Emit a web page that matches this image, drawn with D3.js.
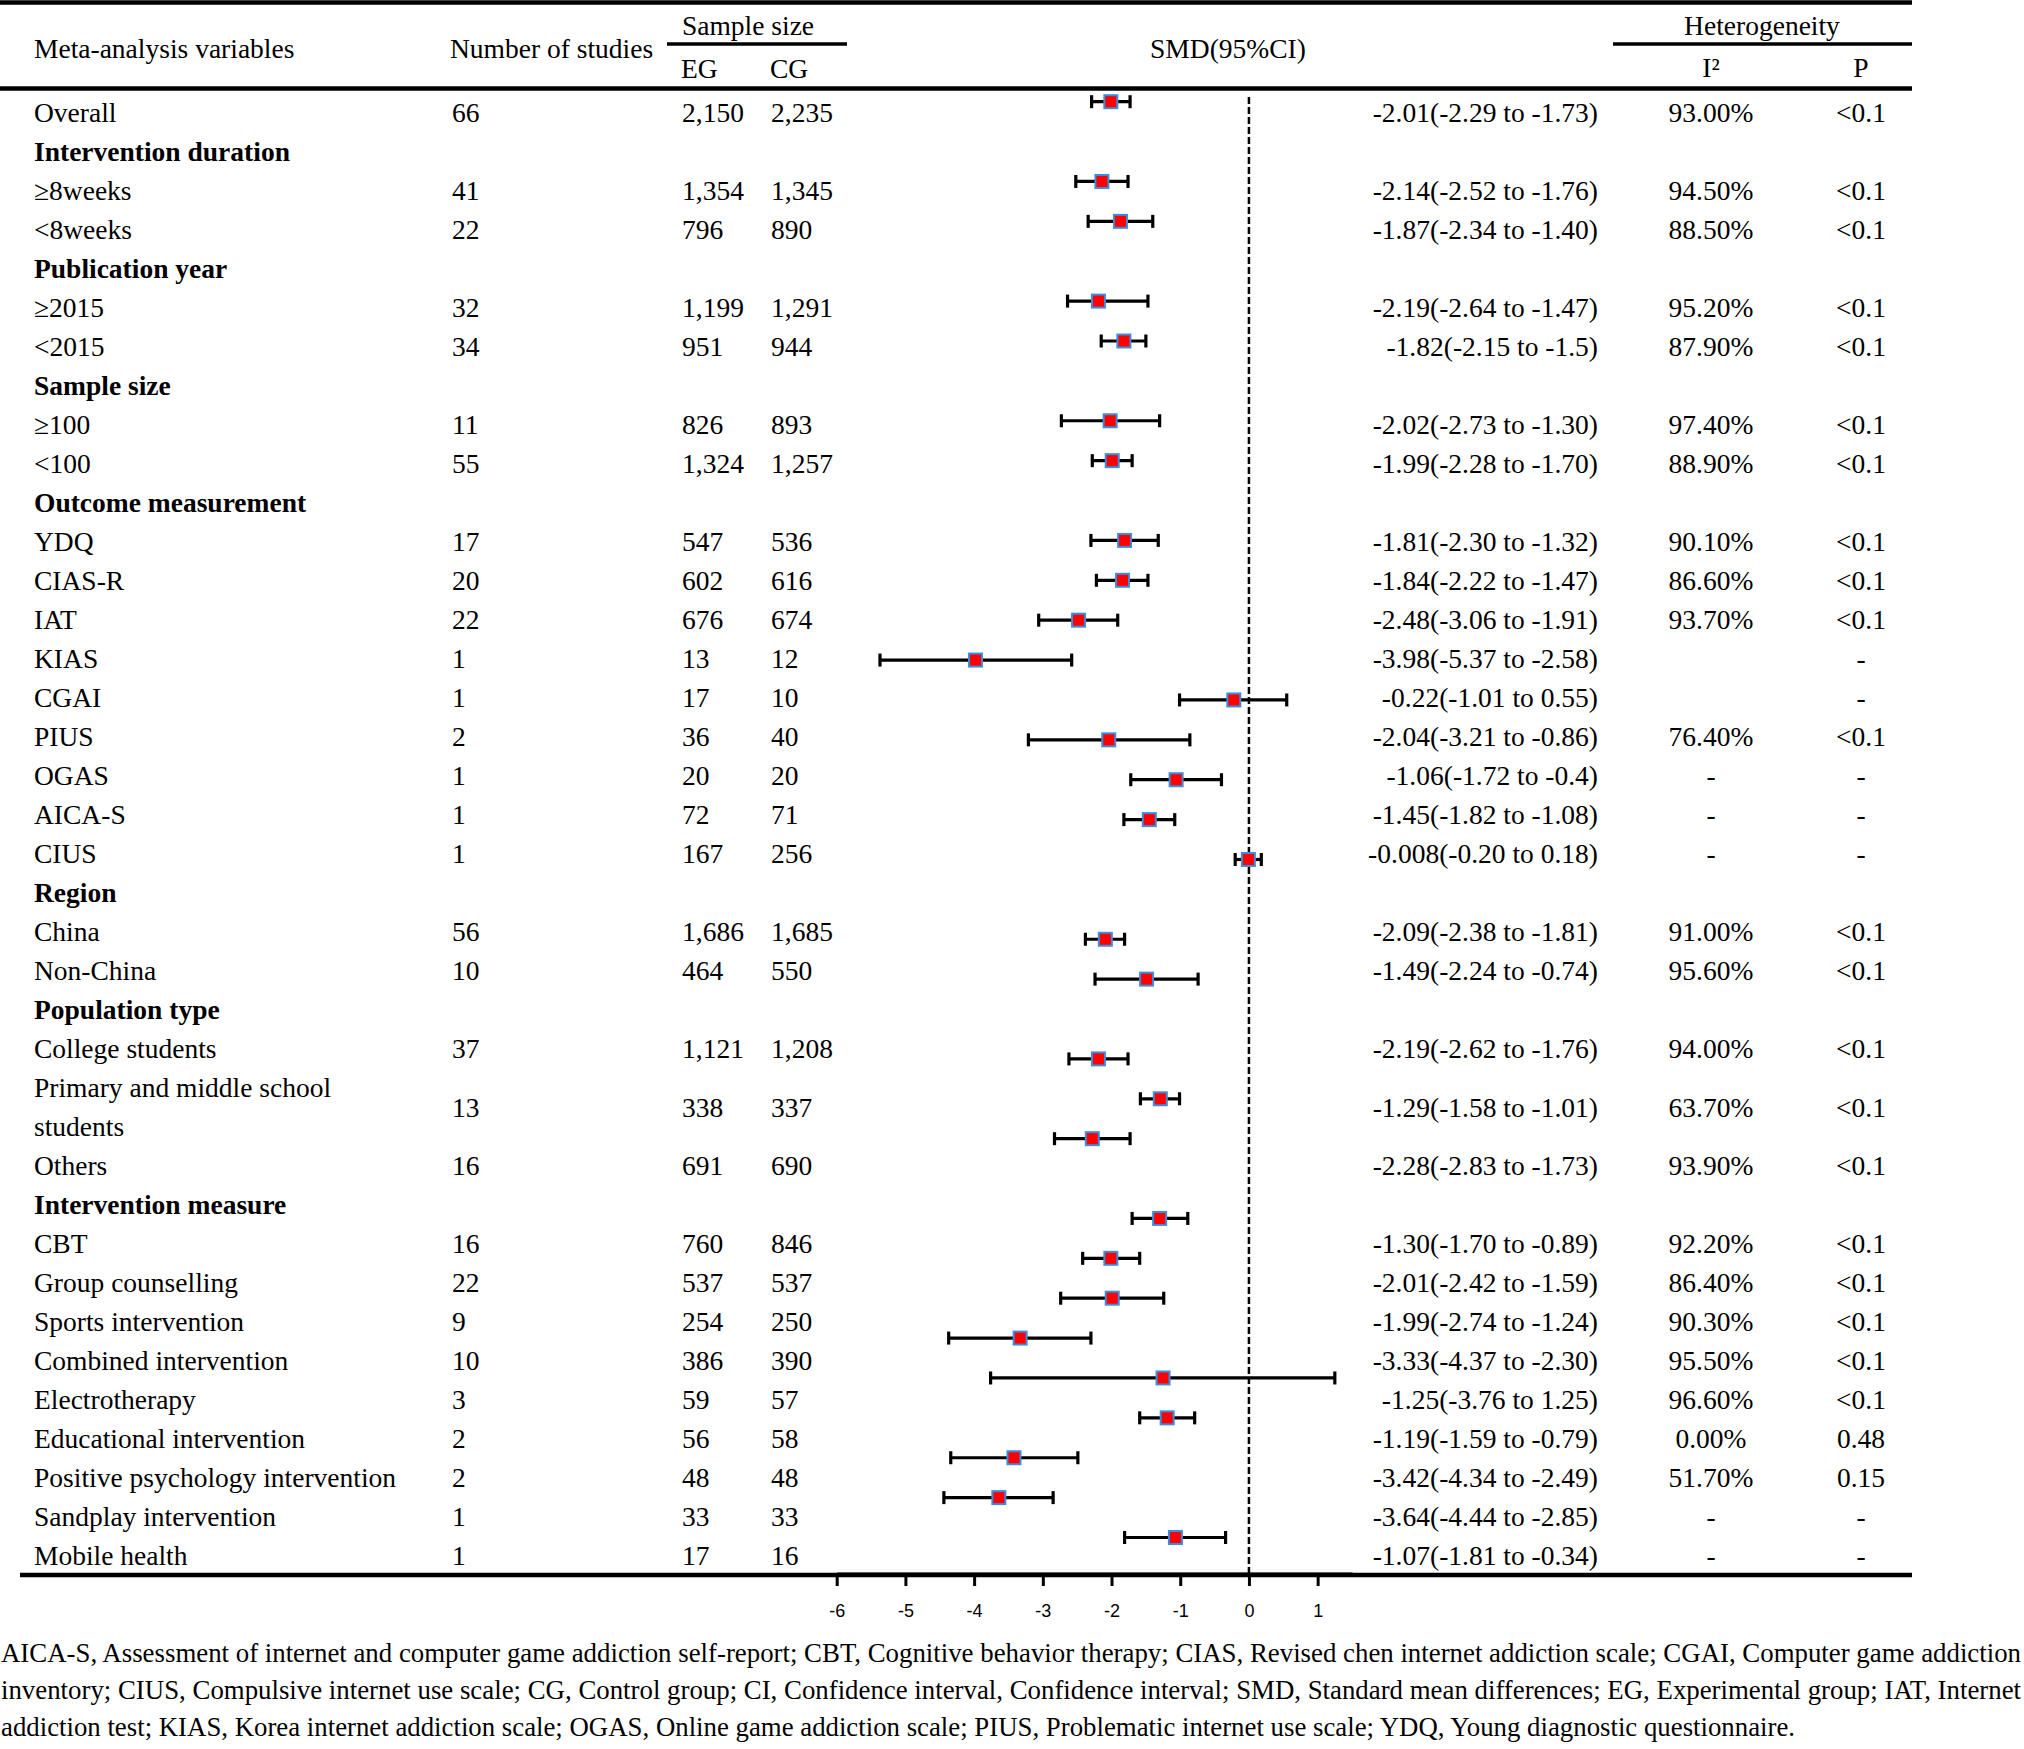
<!DOCTYPE html>
<html><head><meta charset="utf-8">
<script src="https://cdn.jsdelivr.net/npm/d3@7"></script>
<style>
html,body{margin:0;padding:0;background:#fff;}
svg{display:block;}
text{font-family:"Liberation Serif","Times New Roman",serif;fill:#000;}
</style></head><body>
<svg id="chart" width="2024" height="1749"></svg>
<script>
// ---------------- data ----------------
const variables = [
  "Overall","Intervention duration","≥8weeks","<8weeks","Publication year","≥2015","<2015",
  "Sample size","≥100","<100","Outcome measurement","YDQ","CIAS-R","IAT","KIAS","CGAI","PIUS",
  "OGAS","AICA-S","CIUS","Region","China","Non-China","Population type","College students",
  "Primary and middle school students","Others","Intervention measure","CBT","Group counselling",
  "Sports intervention","Combined intervention","Electrotherapy","Educational intervention",
  "Positive psychology intervention","Sandplay intervention","Mobile health"
];
const groupHeaders = ["Intervention duration","Publication year","Sample size","Outcome measurement",
  "Region","Population type","Intervention measure"];
const wrappedLabels = {"Primary and middle school students":["Primary and middle school","students"]};
const nStudies = ["66","","41","22","","32","34","","11","55","","17","20","22","1","1","2","1","1","1",
  "","56","10","","37","13","16","","16","22","9","10","3","2","2","1","1"];
const egN = ["2,150","","1,354","796","","1,199","951","","826","1,324","","547","602","676","13","17","36",
  "20","72","167","","1,686","464","","1,121","338","691","","760","537","254","386","59","56","48","33","17"];
const cgN = ["2,235","","1,345","890","","1,291","944","","893","1,257","","536","616","674","12","10","40",
  "20","71","256","","1,685","550","","1,208","337","690","","846","537","250","390","57","58","48","33","16"];
const smd = [-2.01,null,-2.14,-1.87,null,-2.19,-1.82,null,-2.02,-1.99,null,-1.81,-1.84,-2.48,-3.98,-0.22,-2.04,
  -1.06,-1.45,-0.008,null,-2.09,-1.49,null,-2.19,-1.29,-2.28,null,-1.30,-2.01,-1.99,-3.33,-1.25,-1.19,-3.42,-3.64,-1.07];
const ciLow = [-2.29,null,-2.52,-2.34,null,-2.64,-2.15,null,-2.73,-2.28,null,-2.30,-2.22,-3.06,-5.37,-1.01,-3.21,
  -1.72,-1.82,-0.20,null,-2.38,-2.24,null,-2.62,-1.58,-2.83,null,-1.70,-2.42,-2.74,-4.37,-3.76,-1.59,-4.34,-4.44,-1.81];
const ciHigh = [-1.73,null,-1.76,-1.40,null,-1.47,-1.5,null,-1.30,-1.70,null,-1.32,-1.47,-1.91,-2.58,0.55,-0.86,
  -0.4,-1.08,0.18,null,-1.81,-0.74,null,-1.76,-1.01,-1.73,null,-0.89,-1.59,-1.24,-2.30,1.25,-0.79,-2.49,-2.85,-0.34];
const smdLabels = ["-2.01(-2.29 to -1.73)","","-2.14(-2.52 to -1.76)","-1.87(-2.34 to -1.40)","",
  "-2.19(-2.64 to -1.47)","-1.82(-2.15 to -1.5)","","-2.02(-2.73 to -1.30)","-1.99(-2.28 to -1.70)","",
  "-1.81(-2.30 to -1.32)","-1.84(-2.22 to -1.47)","-2.48(-3.06 to -1.91)","-3.98(-5.37 to -2.58)",
  "-0.22(-1.01 to 0.55)","-2.04(-3.21 to -0.86)","-1.06(-1.72 to -0.4)","-1.45(-1.82 to -1.08)",
  "-0.008(-0.20 to 0.18)","","-2.09(-2.38 to -1.81)","-1.49(-2.24 to -0.74)","","-2.19(-2.62 to -1.76)",
  "-1.29(-1.58 to -1.01)","-2.28(-2.83 to -1.73)","","-1.30(-1.70 to -0.89)","-2.01(-2.42 to -1.59)",
  "-1.99(-2.74 to -1.24)","-3.33(-4.37 to -2.30)","-1.25(-3.76 to 1.25)","-1.19(-1.59 to -0.79)",
  "-3.42(-4.34 to -2.49)","-3.64(-4.44 to -2.85)","-1.07(-1.81 to -0.34)"];
const i2 = ["93.00%","","94.50%","88.50%","","95.20%","87.90%","","97.40%","88.90%","","90.10%","86.60%",
  "93.70%","","","76.40%","-","-","-","","91.00%","95.60%","","94.00%","63.70%","93.90%","","92.20%",
  "86.40%","90.30%","95.50%","96.60%","0.00%","51.70%","-","-"];
const pValues = ["<0.1","","<0.1","<0.1","","<0.1","<0.1","","<0.1","<0.1","","<0.1","<0.1","<0.1","-","-",
  "<0.1","-","-","-","","<0.1","<0.1","","<0.1","<0.1","<0.1","","<0.1","<0.1","<0.1","<0.1","<0.1",
  "0.48","0.15","-","-"];
const tickValues = [-6,-5,-4,-3,-2,-1,0,1];
const tickLabels = ["-6","-5","-4","-3","-2","-1","0","1"];
const footnoteLines = [
  "AICA-S, Assessment of internet and computer game addiction self-report; CBT, Cognitive behavior therapy; CIAS, Revised chen internet addiction scale; CGAI, Computer game addiction",
  "inventory; CIUS, Compulsive internet use scale; CG, Control group; CI, Confidence interval, Confidence interval; SMD, Standard mean differences; EG, Experimental group; IAT, Internet",
  "addiction test; KIAS, Korea internet addiction scale; OGAS, Online game addiction scale; PIUS, Problematic internet use scale; YDQ, Young diagnostic questionnaire."
];

// ---------------- layout ----------------
const svg = d3.select("#chart");
const FS = 27.5;
const lineCounts = variables.map(v => wrappedLabels[v] ? wrappedLabels[v].length : 1);
const lineStart = [];
lineCounts.reduce((acc, c, i) => { lineStart[i] = acc; return acc + c; }, 0);
const totalLines = d3.sum(lineCounts);

const yLine = d3.scaleLinear().domain([0, totalLines - 1]).range([112.4, 1556]);
const ySlot = d3.scaleLinear().domain([0, variables.length - 1]).range([101.7, 1537.5]);
const x = d3.scaleLinear().domain([-6, 1.5]).range([836.7, 1352]);

const cx = { variable: 34, n: 452, eg: 682, cg: 771, smdEnd: 1598, i2: 1711, p: 1861 };
const base = 0.34 * FS;

// rules
const rules = [
  {x1: 0, x2: 1912, y: 2.5, w: 4.5},
  {x1: 667, x2: 847, y: 44, w: 3.5},
  {x1: 1613, x2: 1912, y: 44, w: 3.5},
  {x1: 0, x2: 1912, y: 88.5, w: 4.5},
  {x1: 20, x2: 1912, y: 1575, w: 4.5}
];
svg.append("g").selectAll("line").data(rules).join("line")
  .attr("x1", d => d.x1).attr("x2", d => d.x2).attr("y1", d => d.y).attr("y2", d => d.y)
  .attr("stroke", "#000").attr("stroke-width", d => d.w);

// header texts
const headers = [
  {t: "Meta-analysis variables", x: cx.variable, y: 49, a: "start"},
  {t: "Number of studies", x: 450, y: 49, a: "start"},
  {t: "Sample size", x: 748, y: 26, a: "middle"},
  {t: "EG", x: 681, y: 69, a: "start"},
  {t: "CG", x: 770, y: 69, a: "start"},
  {t: "SMD(95%CI)", x: 1228, y: 49, a: "middle"},
  {t: "Heterogeneity", x: 1762, y: 26, a: "middle"},
  {t: "I²", x: 1711, y: 68, a: "middle"},
  {t: "P", x: 1861, y: 68, a: "middle"}
];
svg.append("g").selectAll("text").data(headers).join("text")
  .attr("x", d => d.x).attr("y", d => d.y + base).attr("text-anchor", d => d.a)
  .attr("font-size", FS).text(d => d.t);

// table body
const rowsG = svg.append("g").attr("font-size", FS);
variables.forEach((v, i) => {
  const isHead = groupHeaders.includes(v);
  const lines = wrappedLabels[v] || [v];
  lines.forEach((ln, k) => {
    rowsG.append("text").attr("x", cx.variable).attr("y", yLine(lineStart[i] + k) + base)
      .attr("font-weight", isHead ? "bold" : "normal").text(ln);
  });
  const yc = (yLine(lineStart[i]) + yLine(lineStart[i] + lines.length - 1)) / 2 + base;
  const cells = [
    {t: nStudies[i], x: cx.n, a: "start"},
    {t: egN[i], x: cx.eg, a: "start"},
    {t: cgN[i], x: cx.cg, a: "start"},
    {t: smdLabels[i], x: cx.smdEnd, a: "end"},
    {t: i2[i], x: cx.i2, a: "middle"},
    {t: pValues[i], x: cx.p, a: "middle"}
  ];
  cells.filter(c => c.t).forEach(c => {
    rowsG.append("text").attr("x", c.x).attr("y", yc).attr("text-anchor", c.a).text(c.t);
  });
});

// forest plot
const plotG = svg.append("g");
plotG.append("line").attr("x1", x(0)).attr("x2", x(0)).attr("y1", 97).attr("y2", 1575)
  .attr("stroke", "#000").attr("stroke-width", 2.5).attr("stroke-dasharray", "7,3");

const pts = variables.map((v, i) => ({i, m: smd[i], lo: ciLow[i], hi: ciHigh[i]})).filter(d => d.m !== null);
plotG.selectAll("line.ci").data(pts).join("line").attr("class", "ci")
  .attr("x1", d => x(d.lo)).attr("x2", d => x(d.hi))
  .attr("y1", d => ySlot(d.i)).attr("y2", d => ySlot(d.i))
  .attr("stroke", "#000").attr("stroke-width", 3.2);
["lo", "hi"].forEach(k => {
  plotG.selectAll("line.cap-" + k).data(pts).join("line").attr("class", "cap-" + k)
    .attr("x1", d => x(d[k])).attr("x2", d => x(d[k]))
    .attr("y1", d => ySlot(d.i) - 6.5).attr("y2", d => ySlot(d.i) + 6.5)
    .attr("stroke", "#000").attr("stroke-width", 3.2);
});
const MS = 13;
plotG.selectAll("rect.m").data(pts).join("rect").attr("class", "m")
  .attr("x", d => x(d.m) - MS / 2).attr("y", d => ySlot(d.i) - MS / 2)
  .attr("width", MS).attr("height", MS)
  .attr("fill", "#ff0000").attr("stroke", "#3a8ee0").attr("stroke-width", 2);

// axis
const axis = d3.axisBottom(x).tickValues(tickValues).tickFormat((d, i) => tickLabels[i])
  .tickSize(12).tickSizeOuter(0).tickPadding(18);
const axG = svg.append("g").attr("transform", "translate(0,1574)").call(axis);
axG.select(".domain").attr("stroke", "#000").attr("stroke-width", 4);
axG.selectAll(".tick line").attr("stroke", "#000").attr("stroke-width", 3);
axG.selectAll(".tick text").attr("fill", "#222")
  .style("font-family", '"Liberation Sans", Arial, sans-serif').style("font-size", "18px");

// footnote
const fnY = [1653, 1690, 1727];
const FN = 26.8;
const fnG = svg.append("g").attr("font-size", FN);
footnoteLines.forEach((t, i) => {
  const el = fnG.append("text").attr("x", 1).attr("y", fnY[i] + 0.34 * FN).text(t);
  if (i < 2) el.attr("textLength", 2020).attr("lengthAdjust", "spacingAndGlyphs");
});
</script>
</body></html>
